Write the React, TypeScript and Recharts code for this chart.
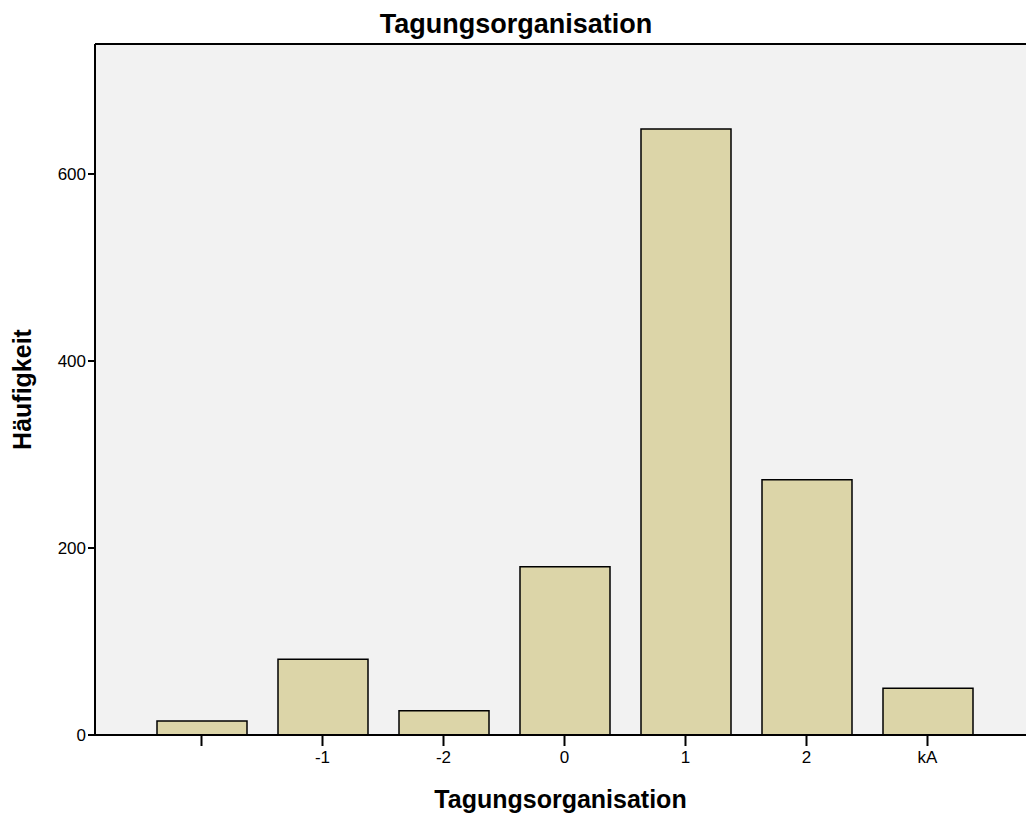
import React from 'react';
import { BarChart, Bar, XAxis, YAxis, CartesianGrid, ReferenceLine } from 'recharts';

const categories = ['', '-1', '-2', '0', '1', '2', 'kA'];
const counts = [15, 81, 26, 180, 648, 273, 50];
const yTicks = [0, 200, 400, 600];
const yMax = 739;

const data = categories.map((c, i) => ({ cat: c, count: counts[i] }));

const font = '"Liberation Sans", Arial, sans-serif';

export default function App() {
  return (
    <div style={{ position: 'absolute', left: 0, top: 0, width: 1026, height: 814, background: '#fff', fontFamily: font }}>
      <div style={{ position: 'absolute', left: 0, top: 8, width: 1032, textAlign: 'center', fontSize: 27, fontWeight: 'bold', color: '#000', lineHeight: '32px' }}>
        Tagungsorganisation
      </div>
      <BarChart width={1026} height={814} data={data} margin={{ top: 44, right: 0, bottom: 0, left: 0 }} barSize={90}>
        <CartesianGrid fill="#f2f2f2" horizontal={false} vertical={false} />
        <ReferenceLine y={yMax} stroke="#000" strokeWidth={2} />
        <XAxis
          dataKey="cat"
          height={79}
          padding={{ left: 46, right: 38 }}
          axisLine={{ stroke: '#000', strokeWidth: 2 }}
          tickLine={{ stroke: '#000', strokeWidth: 2 }}
          tickSize={11}
          tick={{ fill: '#000', fontSize: 17, fontFamily: font, dy: 3 }}
          interval={0}
          label={{ value: 'Tagungsorganisation', position: 'insideBottom', offset: 6, style: { fill: '#000', fontSize: 25, fontWeight: 'bold', fontFamily: font } }}
        />
        <YAxis
          width={95}
          domain={[0, yMax]}
          ticks={yTicks}
          axisLine={{ stroke: '#000', strokeWidth: 2 }}
          tickLine={{ stroke: '#000', strokeWidth: 2 }}
          tickSize={7}
          tick={{ fill: '#000', fontSize: 17, fontFamily: font }}
          label={{ value: 'Häufigkeit', angle: -90, position: 'insideLeft', offset: 22, style: { fill: '#000', fontSize: 25, fontWeight: 'bold', fontFamily: font, textAnchor: 'middle' } }}
        />
        <Bar dataKey="count" fill="#dcd5a8" stroke="#000" strokeWidth={1.5} isAnimationActive={false} />
      </BarChart>
    </div>
  );
}
